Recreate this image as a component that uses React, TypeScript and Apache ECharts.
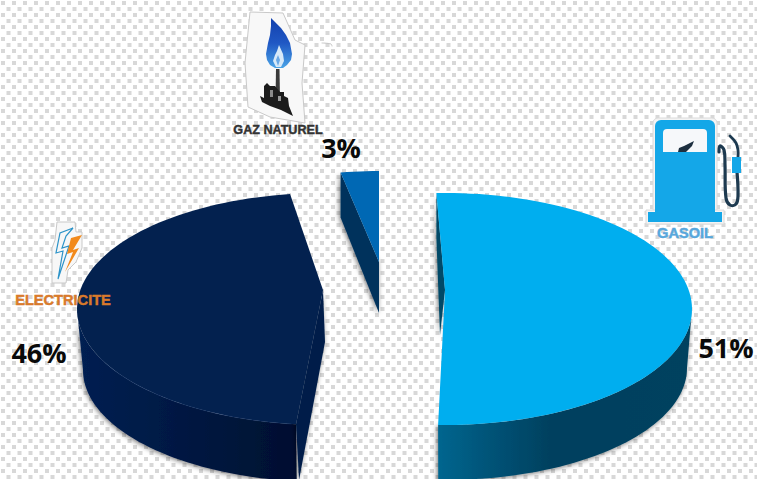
import React, { useEffect, useRef } from "react";
import * as echarts from "echarts";

const categories = ["GASOIL", "ELECTRICITE", "GAZ NATUREL"];
const shares = [51, 46, 3];

const FONT = "'Open Sans', sans-serif";
const LABEL_FONT = "'Liberation Sans', Arial, sans-serif";

// Projection of every exploded slice (the pie is tilted, with perspective).
const frames = [
  { start: -2, ax: 445, ay: 290, cx: 445, cy: 309, rx: 247, ry: 116, bcx: 445, bcy: 368, brx: 242, bry: 112, apexDrop: [-5, 45], rimDrop: [0, 45],
    top: "#00aeef", cut: "#034a68", wall: [[0, "#03668f"], [0.18, "#02557a"], [0.45, "#02405e"], [1, "#02425f"]], label: [726, 347] },
  { start: 186.5, ax: 323, ay: 290, cx: 324, cy: 309, rx: 247, ry: 116, bcx: 324, bcy: 370, brx: 241, bry: 112, apexDrop: [2, 52], rimDrop: [3, 56],
    top: "#03214f", cut: "#041e49", wall: [[0, "#062052"], [0.55, "#041740"], [1, "#030f30"]], label: [39, 352] },
  { start: -10.8, ax: 379, ay: 262, cx: 379, cy: 262, rx: 205, ry: 91, bcx: 379, bcy: 310, brx: 205, bry: 91, apexDrop: [0, 51], rimDrop: [0, 45],
    top: "#0068b4", cut: "#02335c", wall: [[0, "#02335c"], [1, "#02335c"]], label: [341, 147] },
];

const rad = (d: number) => (d * Math.PI) / 180;
const ell = (cx: number, cy: number, rx: number, ry: number, t: number) => [cx + rx * Math.sin(rad(t)), cy - ry * Math.cos(rad(t))];

function arc(cx: number, cy: number, rx: number, ry: number, a: number, b: number) {
  const pts: number[][] = [];
  const n = Math.max(4, Math.ceil(Math.abs(b - a) / 2));
  for (let i = 0; i <= n; i++) pts.push(ell(cx, cy, rx, ry, a + ((b - a) * i) / n));
  return pts;
}

const total = shares.reduce((s, v) => s + v, 0);

function renderSlice(params: any, api: any) {
  const i = params.dataIndex;
  const value = api.value(0);
  const f = frames[i];
  const sweep = (value / total) * 360;
  const start = f.start;
  const end = start + sweep;

  const children: any[] = [];
  const shadow = { shadowBlur: 5, shadowColor: "rgba(0,0,0,0.55)", shadowOffsetX: -1, shadowOffsetY: 1 };

  const wa = Math.max(start, 90);
  const wb = Math.min(end, 270);
  if (wb > wa) {
    const topEdge = arc(f.cx, f.cy, f.rx, f.ry, wa, wb);
    const botEdge = arc(f.bcx, f.bcy, f.brx, f.bry, wb, wa);
    children.push({
      type: "polygon",
      shape: { points: [...topEdge, ...botEdge] },
      style: {
        fill: new echarts.graphic.LinearGradient(0, 0, 1, 0, f.wall.map(([offset, color]) => ({ offset, color })) as any),
        ...shadow,
      },
    });
  }
  const rim = ell(f.cx, f.cy, f.rx, f.ry, start);
  children.push({
    type: "polygon",
    shape: {
      points: [rim, [f.ax, f.ay], [f.ax + f.apexDrop[0], f.ay + f.apexDrop[1]], [rim[0] + f.rimDrop[0], rim[1] + f.rimDrop[1]]],
    },
    style: { fill: f.cut, ...shadow },
  });
  children.push({
    type: "polygon",
    shape: { points: [[f.ax, f.ay], ...arc(f.cx, f.cy, f.rx, f.ry, start, end)] },
    style: { fill: f.top },
  });
  if (i === 1) {
    children.push({
      type: "polyline",
      shape: { points: arc(f.cx, f.cy, f.rx, f.ry, start + 1, 245) },
      style: { stroke: "#1b3a70", lineWidth: 1, fill: "none", opacity: 0.35 },
    });
  }
  children.push({
    type: "text",
    x: f.label[0],
    y: f.label[1],
    style: { text: `${value}%`, fill: "#0a0a0a", font: `bold 27px ${FONT}`, align: "center", verticalAlign: "middle" },
  });
  return { type: "group", children };
}

function poly(points: number[][], fill: string, extra: any = {}) {
  return { type: "polygon", shape: { points }, style: { fill, ...extra } };
}

function stroke(points: number[][], color: string, lineWidth: number, extra: any = {}) {
  return { type: "polyline", shape: { points, smooth: 0.4 }, style: { stroke: color, lineWidth, fill: "none", lineCap: "round", ...extra } };
}

function caption(text: string, x: number, y: number, color: string, size: number) {
  return {
    type: "text",
    x,
    y,
    style: { text, fill: color, stroke: color, lineWidth: 0.45, font: `bold ${size}px ${LABEL_FONT}`, align: "center", verticalAlign: "middle" },
  };
}

const blobEdge = { stroke: "#c9c9c9", lineWidth: 1 };

function gasIcon() {
  return [
    poly([[250, 12], [283, 13], [295, 40], [305, 45], [302, 83], [305, 123], [270, 117], [248, 107], [245, 63]], "#f8f8f8", blobEdge),
    stroke([[322, 43], [331, 44], [332, 46]], "#c6c6c6", 1),
    {
      type: "polygon",
      shape: {
        points: [[271, 18], [275, 22], [281, 28], [286, 35], [290, 43], [292, 54], [291, 60], [287, 65], [283, 68], [275, 68], [270, 65], [267, 60], [266, 54], [268, 43], [270, 35], [271, 26]],
      },
      style: {
        fill: new echarts.graphic.LinearGradient(0, 0, 0, 1, [
          { offset: 0, color: "#1240ad" },
          { offset: 0.5, color: "#2058c4" },
          { offset: 1, color: "#4aa3e6" },
        ]),
      },
    },
    poly([[279, 45], [283, 54], [284, 61], [281, 67], [276, 67], [273, 61], [275, 55], [277, 51]], "#d7e9f8"),
    poly([[278, 55], [280, 60], [278, 66], [276, 60]], "#6aa9e6"),
    poly([[276, 69], [279.5, 69], [280, 100], [275.5, 100]], "#3a3a3a"),
    poly([[260, 96], [264, 98], [264, 86], [267, 83], [270, 86], [275, 86], [280, 92], [284, 92], [284, 96], [288, 98], [289, 106], [293, 116], [281, 110], [270, 106], [262, 102]], "#1c1c1c"),
    poly([[270, 90], [273, 90], [273, 97], [270, 97]], "#8a8a8a"),
    poly([[278, 96], [281, 96], [281, 101], [278, 101]], "#9a9a9a"),
    caption(categories[2], 278, 130, "#333333", 12.6),
  ];
}

function pumpIcon() {
  return [
    { type: "rect", shape: { x: 653, y: 118, width: 64, height: 106, r: 5 }, style: { fill: "#f4f4f4", stroke: "#dadada", lineWidth: 1 } },
    { type: "rect", shape: { x: 646, y: 210, width: 78, height: 14 }, style: { fill: "#f4f4f4", stroke: "#dadada", lineWidth: 1 } },
    { type: "rect", shape: { x: 655, y: 120, width: 60, height: 94, r: [6, 6, 0, 0] }, style: { fill: "#14a7e8" } },
    { type: "rect", shape: { x: 648, y: 212, width: 74, height: 10 }, style: { fill: "#14a7e8" } },
    { type: "rect", shape: { x: 663, y: 129, width: 44, height: 23, r: [4, 4, 0, 0] }, style: { fill: "#f6f8fa" } },
    poly([[678, 152], [679, 148], [684, 146], [690, 143], [694, 141], [692, 146], [688, 150], [686, 152]], "#1d2f3f"),
    stroke([[737, 172], [738, 196], [736, 204], [730, 205], [726, 198], [725, 165], [724, 150], [720, 146], [719, 152]], "#1d3a50", 3.2),
    stroke([[730, 136], [736, 143], [738, 150], [738, 157]], "#1d3a50", 2.8),
    { type: "rect", shape: { x: 732, y: 157, width: 9, height: 16 }, style: { fill: "#14a7e8" } },
    caption(categories[0], 685, 233, "#57a7dc", 14.6),
  ];
}

function boltIcon() {
  return [
    poly([[57, 222], [75, 222], [76, 232], [82, 232], [82, 248], [76, 262], [68, 270], [66, 283], [52, 283], [52, 248], [55, 240]], "#f7f7f7", blobEdge),
    poly([[73, 228], [60, 233], [56, 253], [63, 251], [58, 279], [69, 246], [62, 248], [66, 236]], "none", { stroke: "#2c93c8", lineWidth: 1.2 }),
    poly([[82, 235], [71, 238], [67, 254], [73, 252], [65, 272], [79, 248], [73, 250]], "#f28a1c"),
    caption(categories[1], 63, 300, "#d97a2b", 14.6),
  ];
}

const dots =
  "url(\"data:image/svg+xml;utf8,<svg xmlns='http://www.w3.org/2000/svg' width='11' height='12'><rect x='1' y='1' width='4' height='4' fill='%23d8d8d8'/><rect x='6.5' y='7' width='4' height='4' fill='%23d8d8d8'/></svg>\")";

export default function App() {
  const ref = useRef<HTMLDivElement>(null);
  useEffect(() => {
    document.body.style.margin = "0";
    const chart = echarts.init(ref.current!, undefined, { renderer: "svg" });
    const icons = [...gasIcon(), ...pumpIcon(), ...boltIcon()].map((e: any) => ({ ...e, z: 100, silent: true }));
    chart.setOption({
      animation: false,
      backgroundColor: "transparent",
      series: [
        {
          type: "custom",
          coordinateSystem: "none",
          silent: true,
          clip: false,
          z: 1,
          renderItem: renderSlice,
          data: shares.map((v, i) => ({ name: categories[i], value: [v] })),
        },
      ],
      graphic: { elements: icons },
    });
    return () => chart.dispose();
  }, []);
  return (
    <div
      ref={ref}
      style={{
        position: "absolute",
        left: 0,
        top: 0,
        width: 757,
        height: 479,
        overflow: "hidden",
        backgroundColor: "#ffffff",
        backgroundImage: dots,
      }}
    />
  );
}
